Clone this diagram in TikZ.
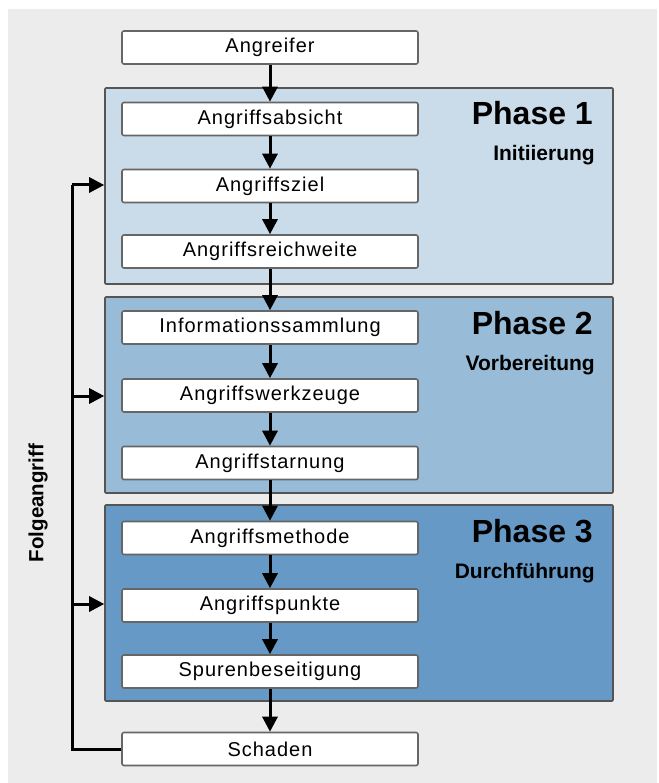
\documentclass[tikz,border=0pt]{standalone}
\usepackage{fontspec}
\setmainfont{Liberation Sans}
\newfontfamily\boxfont[LetterSpace=5]{Liberation Sans}
\usetikzlibrary{arrows.meta}
\definecolor{bgray}{HTML}{ECECEC}
\definecolor{pone}{HTML}{CADCE9}
\definecolor{ptwo}{HTML}{98BCD8}
\definecolor{pthree}{HTML}{6699C5}
\definecolor{pborder}{HTML}{555555}
\definecolor{bborder}{HTML}{666666}
\begin{document}
\begin{tikzpicture}[x=1pt,y=-1pt,
  stepbox/.style={draw=bborder,fill=white,line width=1.6pt,rounded corners=2pt,
    minimum width=296pt,minimum height=33pt,inner sep=0pt,
    font=\boxfont\fontsize{20}{22}\selectfont},
  phasebox/.style={draw=pborder,line width=1.6pt,rounded corners=1pt,
    minimum width=508pt,minimum height=196pt,inner sep=0pt},
  phasetitle/.style={anchor=base east,inner sep=0pt,font=\fontsize{32}{34}\selectfont\bfseries},
  phasesub/.style={anchor=base east,inner sep=0pt,font=\fontsize{21}{23}\selectfont\bfseries},
  arr/.style={line width=3pt,-{Triangle[length=15pt,width=15pt]}},
  fbline/.style={line width=3pt}]
\useasboundingbox (0,0) rectangle (658,783);
\fill[white] (0,0) rectangle (658,783);
\fill[bgray] (8,9) rectangle (657,783);
% phases
\node[phasebox,fill=pone] (p1) at (359,186) {};
\node[phasebox,fill=ptwo] (p2) at (359,395) {};
\node[phasebox,fill=pthree] (p3) at (359,603) {};
\node[phasetitle] (t1) at (593,125) {Phase 1};
\node[phasesub] (s1) at (595,161) {Initiierung};
\node[phasetitle] (t2) at (593,334) {Phase 2};
\node[phasesub] (s2) at (595,370) {Vorbereitung};
\node[phasetitle] (t3) at (593,542) {Phase 3};
\node[phasesub] (s3) at (595,578) {Durchführung};
% boxes
\node[stepbox] (a0) at (270,47.5) {Angreifer};
\node[stepbox] (a1) at (270,119) {Angriffsabsicht};
\node[stepbox] (a2) at (270,186) {Angriffsziel};
\node[stepbox] (a3) at (270,251.5) {Angriffsreichweite};
\node[stepbox] (b1) at (270,327.5) {Informationssammlung};
\node[stepbox] (b2) at (270,395.5) {Angriffswerkzeuge};
\node[stepbox] (b3) at (270,463) {Angriffstarnung};
\node[stepbox] (c1) at (270,538) {Angriffsmethode};
\node[stepbox] (c2) at (270,605.5) {Angriffspunkte};
\node[stepbox] (c3) at (270,671.5) {Spurenbeseitigung};
\node[stepbox] (d0) at (270,749) {Schaden};
% arrows
\draw[arr] (a0.south) -- (a1.north);
\draw[arr] (a1.south) -- (a2.north);
\draw[arr] (a2.south) -- (a3.north);
\draw[arr] (a3.south) -- (b1.north);
\draw[arr] (b1.south) -- (b2.north);
\draw[arr] (b2.south) -- (b3.north);
\draw[arr] (b3.south) -- (c1.north);
\draw[arr] (c1.south) -- (c2.north);
\draw[arr] (c2.south) -- (c3.north);
\draw[arr] (c3.south) -- (d0.north);
% feedback
\coordinate (f1) at (72,185);
\coordinate (f2) at (72,396);
\coordinate (f3) at (72,604);
\draw[fbline] (d0.west) -| (f1);
\draw[arr] (f1) -- (f1 -| p1.west);
\draw[arr] (f2) -- (f2 -| p2.west);
\draw[arr] (f3) -- (f3 -| p3.west);
\node[rotate=90,inner sep=0pt,font=\fontsize{20.5}{22}\selectfont\bfseries] (fl) at (38,503) {Folgeangriff};
\end{tikzpicture}
\end{document}
